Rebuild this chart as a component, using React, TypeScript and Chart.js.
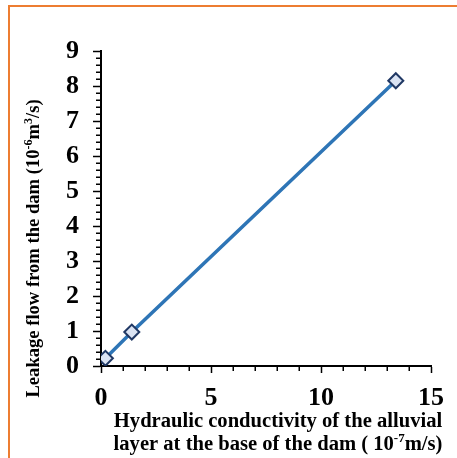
import React, { useEffect, useRef } from "react";
import { Chart, registerables } from "chart.js";

Chart.register(...registerables);

// ---- data ----
const conductivity = [0.2, 1.4, 13.4]; // 10^-7 m/s
const leakage = [0.22, 0.97, 8.15]; // 10^-6 m^3/s
const xMajorStep = 5;
const xMinorStep = 1;
const yMajorStep = 1;
const yMinorStep = 0.2;
const xRange = [0, 15];
const yRange = [0, 9];
const yTitleParts = [
  { t: "Leakage flow from the dam (10" },
  { t: "-6", sup: true },
  { t: "m" },
  { t: "3", sup: true },
  { t: "/s)" },
];
const xTitleLine1 = [{ t: "Hydraulic conductivity of the alluvial" }];
const xTitleLine2 = [
  { t: "layer at the base of the dam ( 10" },
  { t: "-7", sup: true },
  { t: "m/s)" },
];

const FONT_FAMILY = '"Liberation Serif", "Times New Roman", serif';

type Part = { t: string; sup?: boolean };

function drawRich(ctx: CanvasRenderingContext2D, parts: Part[], cx: number, cy: number, size: number) {
  const supSize = Math.round(size * 0.62);
  const widths = parts.map((p) => {
    ctx.font = `bold ${p.sup ? supSize : size}px ${FONT_FAMILY}`;
    return ctx.measureText(p.t).width;
  });
  const total = widths.reduce((a, b) => a + b, 0);
  let x = cx - total / 2;
  ctx.textAlign = "left";
  ctx.textBaseline = "alphabetic";
  const baseline = cy + size * 0.33;
  parts.forEach((p, i) => {
    ctx.font = `bold ${p.sup ? supSize : size}px ${FONT_FAMILY}`;
    ctx.fillText(p.t, x, p.sup ? baseline - size * 0.38 : baseline);
    x += widths[i];
  });
}

const decorPlugin = {
  id: "decor",
  afterDraw(chart: any) {
    const ctx: CanvasRenderingContext2D = chart.ctx;
    const xs = chart.scales.x;
    const ys = chart.scales.y;
    const area = chart.chartArea;
    ctx.save();
    ctx.strokeStyle = "#000";
    ctx.lineWidth = 1.5;
    // minor ticks y
    for (let v = yRange[0]; v <= yRange[1] + 1e-9; v += yMinorStep) {
      const r = Math.round(v / yMinorStep) * yMinorStep;
      if (Math.abs(r / yMajorStep - Math.round(r / yMajorStep)) < 1e-6) continue;
      const py = Math.round(ys.getPixelForValue(r)) + 0.25;
      ctx.beginPath();
      ctx.moveTo(area.left - 5, py);
      ctx.lineTo(area.left, py);
      ctx.stroke();
    }
    // minor ticks x
    for (let v = xRange[0]; v <= xRange[1] + 1e-9; v += xMinorStep) {
      const r = Math.round(v / xMinorStep) * xMinorStep;
      if (Math.abs(r / xMajorStep - Math.round(r / xMajorStep)) < 1e-6) continue;
      const px = Math.round(xs.getPixelForValue(r)) + 0.25;
      ctx.beginPath();
      ctx.moveTo(px, area.bottom);
      ctx.lineTo(px, area.bottom + 5);
      ctx.stroke();
    }
    // titles
    ctx.fillStyle = "#000";
    const midX = (area.left + area.right) / 2 + 12;
    drawRich(ctx, xTitleLine1, midX, area.bottom + 54, 20.6);
    drawRich(ctx, xTitleLine2, midX, area.bottom + 77, 20.6);
    ctx.translate(33, (area.top + area.bottom) / 2 + 40);
    ctx.rotate(-Math.PI / 2);
    drawRich(ctx, yTitleParts, 0, 0, 18.6);
    ctx.restore();
  },
};

export default function App() {
  const ref = useRef<HTMLCanvasElement | null>(null);

  useEffect(() => {
    if (!ref.current) return;
    const chart = new Chart(ref.current, {
      type: "scatter",
      data: {
        datasets: [
          {
            data: conductivity.map((x, i) => ({ x, y: leakage[i] })),
            showLine: true,
            borderColor: "#2e75b6",
            borderWidth: 3.5,
            pointStyle: "rectRot",
            pointRadius: 7.5,
            pointBackgroundColor: "#dae3f3",
            pointBorderColor: "#203864",
            pointBorderWidth: 2,
          },
        ],
      },
      options: {
        animation: false,
        responsive: false,
        devicePixelRatio: 1,
        layout: { padding: { top: 51, right: 26, left: 0, bottom: 0 } },
        plugins: { legend: { display: false }, tooltip: { enabled: false } },
        scales: {
          x: {
            type: "linear",
            min: xRange[0],
            max: xRange[1],
            afterFit: (s: any) => {
              s.height = 92;
            },
            ticks: {
              stepSize: xMajorStep,
              padding: 10,
              color: "#000",
              font: { family: FONT_FAMILY, size: 26, weight: "bold" },
            },
            grid: { drawOnChartArea: false, tickLength: 7, tickColor: "#000", tickWidth: 1.5 },
            border: { display: true, color: "#000", width: 2 },
          },
          y: {
            type: "linear",
            min: yRange[0],
            max: yRange[1],
            afterFit: (s: any) => {
              s.width = 101;
            },
            ticks: {
              stepSize: yMajorStep,
              padding: 14,
              color: "#000",
              font: { family: FONT_FAMILY, size: 26, weight: "bold" },
            },
            grid: { drawOnChartArea: false, tickLength: 8, tickColor: "#000", tickWidth: 1.5 },
            border: { display: true, color: "#000", width: 2 },
          },
        },
      },
      plugins: [decorPlugin],
    });
    return () => chart.destroy();
  }, []);

  return (
    <div style={{ position: "fixed", left: 0, top: 0, width: 457, height: 458, background: "#fff", overflow: "hidden" }}>
      <div
        style={{
          position: "absolute",
          left: 8,
          top: 5,
          width: 700,
          height: 700,
          border: "2px solid #ed7d31",
          boxSizing: "border-box",
        }}
      />
      <canvas ref={ref} width={457} height={458} style={{ position: "absolute", left: 0, top: 0, display: "block" }} />
    </div>
  );
}
